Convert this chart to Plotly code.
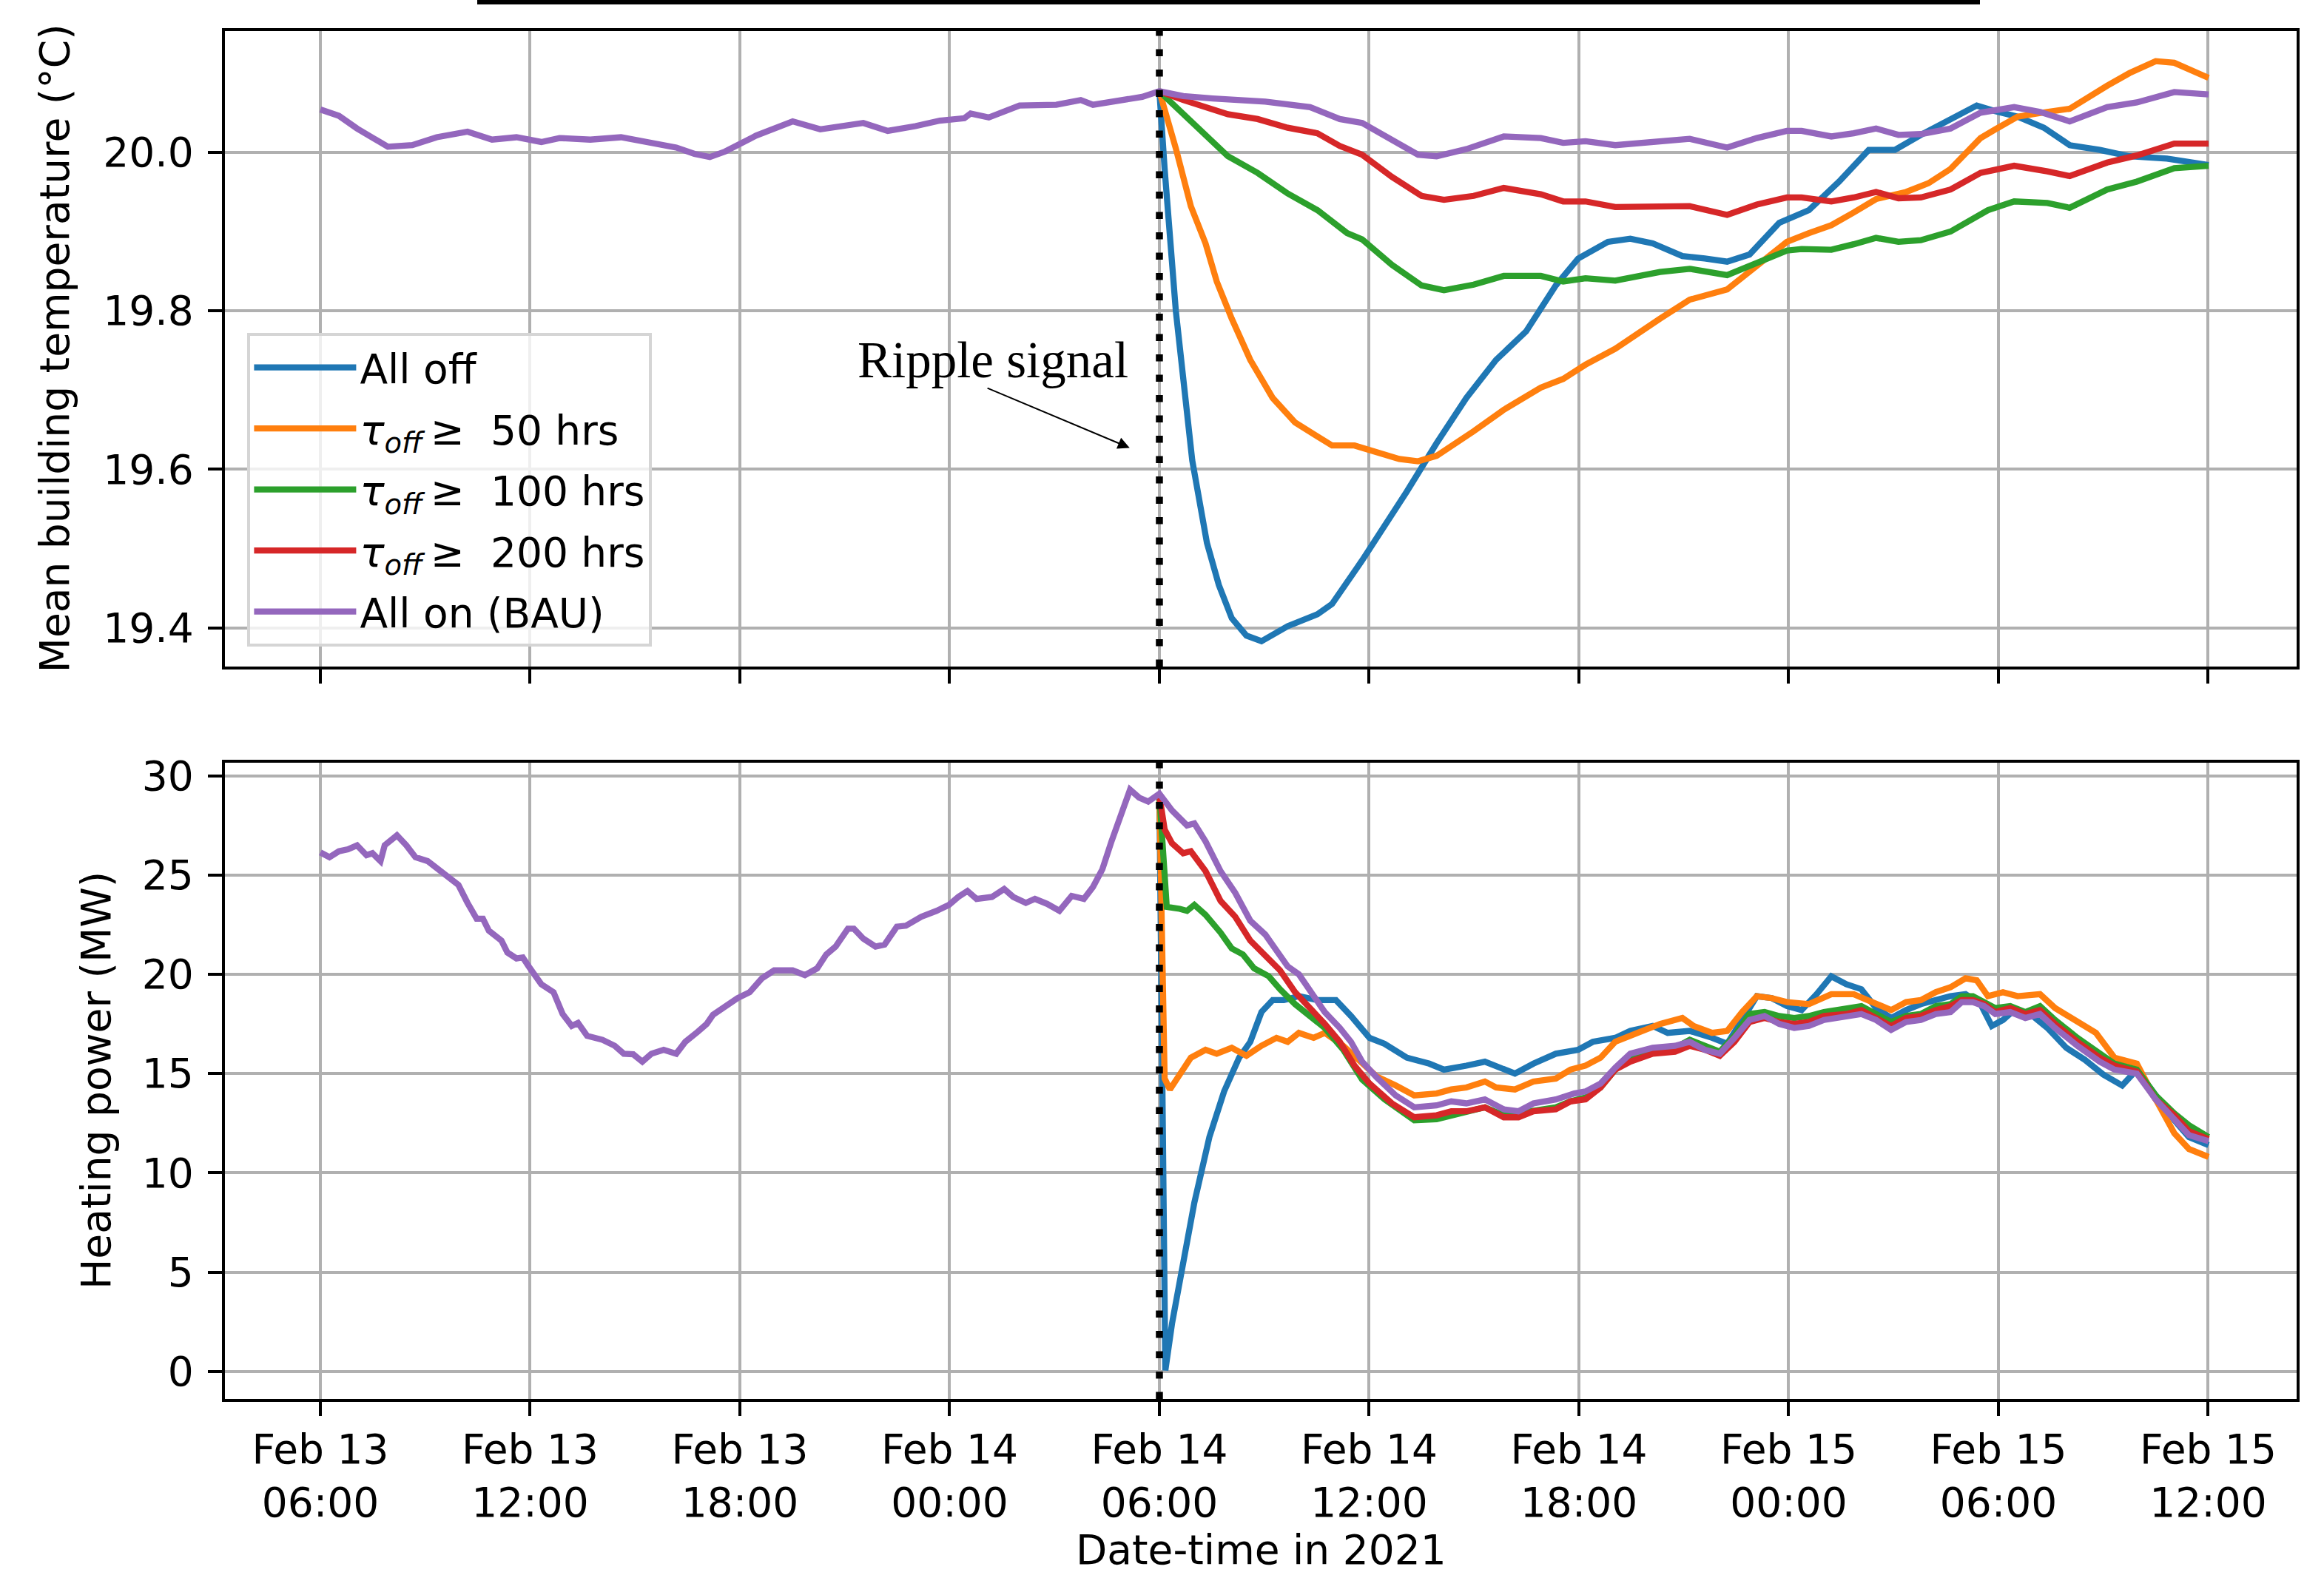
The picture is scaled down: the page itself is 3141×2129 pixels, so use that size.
import pandas as pd
import plotly.graph_objects as go
from plotly.subplots import make_subplots

START = pd.Timestamp("2021-02-13 06:00")
SIGNAL_HOUR = 24.0  # ripple signal sent at Feb 14 06:00

# ---------------------------------------------------------------- data
# All times are hours after Feb 13 06:00.

# Mean building temperature (°C)
bau_temp_hours = [0, 0.53, 1.05, 1.93, 2.63, 3.33, 4.21, 4.91, 5.61, 6.32, 6.84, 7.72, 8.6, 9.3,
                  10.18, 10.7, 11.14, 11.58, 12.46, 13.51, 14.3, 15.53, 16.23, 17.02, 17.72, 18.42,
                  18.6, 19.12, 20.0, 21.05, 21.75, 22.1, 22.98, 23.51, 24.0, 24.68, 25.53, 26.17,
                  27.03, 28.31, 29.16, 29.8, 30.65, 31.4, 31.93, 32.78, 33.85, 34.91, 35.55, 36.19,
                  37.04, 38.32, 39.17, 40.24, 41.09, 41.95, 42.37, 43.22, 43.86, 44.5, 45.14, 45.78,
                  46.63, 47.49, 48.45, 49.19, 50.04, 51.11, 51.96, 53.03, 54.01]
bau_temp = [20.054, 20.046, 20.03, 20.007, 20.009, 20.019, 20.026, 20.016, 20.019, 20.013, 20.018,
            20.016, 20.019, 20.013, 20.006, 19.998, 19.994, 20.001, 20.021, 20.039, 20.029, 20.037,
            20.027, 20.033, 20.04, 20.043, 20.049, 20.044, 20.059, 20.06, 20.066, 20.06, 20.066,
            20.07, 20.077, 20.071, 20.068, 20.066, 20.064, 20.057, 20.042, 20.037, 20.016, 19.997,
            19.995, 20.004, 20.02, 20.018, 20.012, 20.014, 20.009, 20.014, 20.017, 20.006, 20.018,
            20.027, 20.027, 20.02, 20.024, 20.03, 20.022, 20.023, 20.03, 20.05, 20.057, 20.051,
            20.039, 20.057, 20.063, 20.076, 20.073]

alloff_temp_hours = [24.0, 24.15, 24.47, 24.72, 24.94, 25.36, 25.7, 26.07, 26.49, 26.92, 27.67,
                     28.52, 28.94, 29.8, 30.44, 31.08, 31.93, 32.78, 33.63, 34.49, 35.34, 35.98,
                     36.83, 37.47, 38.11, 38.96, 39.6, 40.24, 40.88, 41.73, 42.58, 43.44, 44.29,
                     45.04, 45.78, 46.63, 47.38, 47.91, 48.55, 49.3, 50.04, 50.9, 51.75, 52.82, 54.01]
alloff_temp = [20.077, 19.979, 19.80, 19.706, 19.611, 19.507, 19.454, 19.412, 19.39, 19.383, 19.402,
               19.417, 19.43, 19.485, 19.528, 19.572, 19.633, 19.69, 19.738, 19.774, 19.832, 19.866,
               19.887, 19.891, 19.885, 19.869, 19.866, 19.862, 19.871, 19.911, 19.927, 19.963,
               20.003, 20.003, 20.022, 20.042, 20.059, 20.052, 20.045, 20.031, 20.009, 20.003,
               19.995, 19.992, 19.984]

tau50_temp_hours = [24.0, 24.47, 24.9, 25.32, 25.64, 26.07, 26.6, 27.24, 27.88, 28.94, 29.58, 30.22,
                    30.86, 31.4, 31.93, 32.99, 33.85, 34.91, 35.55, 36.19, 37.04, 38.32, 39.17,
                    40.24, 41.09, 41.95, 42.58, 43.22, 43.86, 44.5, 45.36, 46.0, 46.63, 47.49,
                    47.91, 48.55, 49.4, 50.04, 51.11, 51.75, 52.5, 53.03, 54.01]
tau50_temp = [20.077, 20.005, 19.932, 19.885, 19.837, 19.79, 19.738, 19.69, 19.659, 19.63, 19.63,
              19.622, 19.613, 19.61, 19.617, 19.648, 19.675, 19.703, 19.714, 19.732, 19.752, 19.79,
              19.814, 19.827, 19.858, 19.887, 19.898, 19.908, 19.924, 19.941, 19.95, 19.961,
              19.979, 20.018, 20.029, 20.045, 20.051, 20.055, 20.084, 20.1, 20.115, 20.113, 20.094]

tau100_temp_hours = [24.0, 24.9, 25.96, 26.81, 27.67, 28.52, 29.37, 29.8, 30.65, 31.5, 32.14, 32.99,
                     33.85, 34.91, 35.55, 36.19, 37.04, 38.32, 39.17, 40.24, 41.09, 41.95, 42.37,
                     43.22, 43.86, 44.5, 45.14, 45.78, 46.63, 47.7, 48.45, 49.4, 50.04, 51.11,
                     51.96, 53.03, 54.01]
tau100_temp = [20.077, 20.039, 19.995, 19.974, 19.948, 19.927, 19.898, 19.89, 19.858, 19.832,
               19.826, 19.833, 19.844, 19.844, 19.837, 19.841, 19.838, 19.849, 19.853, 19.845,
               19.861, 19.876, 19.878, 19.877, 19.884, 19.892, 19.887, 19.889, 19.9, 19.927,
               19.938, 19.936, 19.93, 19.953, 19.963, 19.98, 19.983]

tau200_temp_hours = [24.0, 24.68, 25.96, 26.81, 27.67, 28.52, 29.16, 29.8, 30.65, 31.5, 32.14,
                     32.99, 33.85, 34.91, 35.55, 36.19, 37.04, 38.32, 39.17, 40.24, 41.09, 41.95,
                     42.37, 43.22, 43.86, 44.5, 45.14, 45.78, 46.63, 47.49, 48.45, 49.4, 50.04,
                     51.11, 51.96, 53.03, 54.01]
tau200_temp = [20.077, 20.066, 20.048, 20.042, 20.031, 20.024, 20.008, 19.997, 19.969, 19.945,
               19.94, 19.945, 19.955, 19.947, 19.938, 19.938, 19.931, 19.932, 19.932, 19.921,
               19.934, 19.943, 19.943, 19.938, 19.943, 19.95, 19.942, 19.943, 19.953, 19.974,
               19.983, 19.976, 19.97, 19.987, 19.996, 20.011, 20.011]

# Heating power (MW)
bau_power_hours = [0, 0.26, 0.53, 0.79, 1.05, 1.32, 1.49, 1.72, 1.84, 2.19, 2.46, 2.72, 3.07, 3.51,
                   3.95, 4.21, 4.47, 4.65, 4.82, 5.18, 5.35, 5.61, 5.79, 5.96, 6.32, 6.67, 6.93,
                   7.19, 7.37, 7.63, 8.07, 8.42, 8.68, 8.95, 9.21, 9.47, 9.82, 10.18, 10.44, 10.79,
                   11.05, 11.23, 11.58, 11.93, 12.28, 12.63, 12.98, 13.51, 13.86, 14.21, 14.47,
                   14.74, 15.09, 15.26, 15.53, 15.88, 16.14, 16.49, 16.75, 17.19, 17.63, 17.98,
                   18.25, 18.51, 18.77, 19.21, 19.56, 19.82, 20.18, 20.44, 20.79, 21.14, 21.49,
                   21.84, 22.1, 22.37, 22.63, 22.89, 23.16, 23.42, 23.68, 24.0, 24.36, 24.79,
                   25.0, 25.32, 25.75, 26.17, 26.6, 27.03, 27.35, 27.67, 27.99, 28.31, 28.73,
                   29.16, 29.48, 29.8, 30.22, 30.76, 31.29, 31.93, 32.35, 32.78, 33.31, 33.85,
                   34.27, 34.7, 35.34, 35.87, 36.19, 36.62, 37.04, 37.47, 38.11, 38.75, 39.17,
                   39.6, 40.03, 40.45, 40.88, 41.31, 41.73, 42.16, 42.58, 43.01, 43.65, 44.08,
                   44.5, 44.93, 45.36, 45.78, 46.21, 46.63, 46.95, 47.27, 47.59, 47.91, 48.34,
                   48.77, 49.19, 49.62, 50.26, 50.9, 51.32, 51.96, 52.5, 53.03, 53.45, 54.01]
bau_power = [26.14, 25.9, 26.2, 26.3, 26.5, 26.0, 26.1, 25.7, 26.5, 27.0, 26.5, 25.9, 25.7, 25.1,
             24.5, 23.6, 22.8, 22.8, 22.2, 21.7, 21.1, 20.8, 20.85, 20.4, 19.5, 19.1, 18.0, 17.4,
             17.55, 16.9, 16.7, 16.4, 16.0, 15.97, 15.6, 16.0, 16.2, 16.0, 16.6, 17.1, 17.5, 17.96,
             18.4, 18.8, 19.1, 19.8, 20.2, 20.2, 19.96, 20.3, 21.0, 21.4, 22.3, 22.3, 21.8, 21.4,
             21.5, 22.4, 22.45, 22.9, 23.2, 23.5, 23.9, 24.2, 23.8, 23.9, 24.3, 23.9, 23.6, 23.8,
             23.55, 23.2, 23.95, 23.8, 24.4, 25.3, 26.7, 27.9, 29.3, 28.9, 28.7, 29.1, 28.26,
             27.5, 27.6, 26.7, 25.2, 24.1, 22.7, 22.0, 21.2, 20.4, 20.0, 19.15, 18.1, 17.3, 16.6,
             15.6, 14.8, 13.9, 13.3, 13.4, 13.6, 13.5, 13.7, 13.2, 13.1, 13.5, 13.7, 14.0, 14.1,
             14.5, 15.3, 16.0, 16.3, 16.4, 16.6, 16.2, 16.0, 16.8, 17.7, 17.9, 17.5, 17.3, 17.4,
             17.7, 17.9, 18.0, 17.7, 17.2, 17.6, 17.7, 18.0, 18.1, 18.6, 18.6, 18.4, 18.0, 18.1,
             17.8, 18.0, 17.3, 16.4, 15.6, 15.2, 15.0, 13.7, 12.65, 11.9, 11.6]

alloff_power_hours = [24.0, 24.17, 24.36, 24.68, 25.0, 25.43, 25.85, 26.28, 26.6, 26.92, 27.24,
                      27.56, 27.99, 28.52, 29.05, 29.48, 30.01, 30.44, 31.08, 31.72, 32.14, 32.78,
                      33.31, 34.17, 34.7, 35.34, 35.98, 36.4, 37.04, 37.47, 38.11, 38.54, 39.17,
                      39.81, 40.24, 40.67, 41.09, 41.52, 41.95, 42.37, 42.8, 43.22, 43.65, 44.08,
                      44.5, 44.93, 45.36, 45.78, 46.21, 46.63, 47.06, 47.49, 47.81, 48.13, 48.45,
                      48.98, 49.4, 49.94, 50.47, 51.0, 51.54, 51.96, 52.5, 53.03, 53.45, 54.01]
alloff_power = [29.0, 0.05, 2.4, 5.3, 8.5, 11.8, 14.1, 15.8, 16.6, 18.1, 18.7, 18.7, 18.9, 18.7,
                18.7, 17.9, 16.8, 16.5, 15.8, 15.5, 15.2, 15.4, 15.6, 15.0, 15.5, 16.0, 16.2, 16.6,
                16.8, 17.15, 17.4, 17.05, 17.15, 16.8, 16.5, 17.7, 18.9, 18.8, 18.4, 18.2, 19.0,
                19.9, 19.5, 19.25, 18.3, 17.8, 18.2, 18.5, 18.7, 18.9, 19.0, 18.5, 17.4, 17.7,
                18.2, 17.9, 17.3, 16.3, 15.7, 14.95, 14.4, 15.2, 13.9, 12.65, 11.8, 11.4]

tau50_power_hours = [24.0, 24.15, 24.3, 24.58, 24.9, 25.32, 25.64, 26.07, 26.49, 26.92, 27.35,
                     27.67, 27.99, 28.41, 28.73, 29.26, 29.8, 30.22, 30.76, 31.29, 31.93, 32.35,
                     32.78, 33.31, 33.63, 34.17, 34.7, 35.34, 35.76, 36.19, 36.62, 37.04, 37.68,
                     38.32, 38.96, 39.28, 39.81, 40.24, 40.67, 41.09, 41.52, 41.95, 42.58, 43.22,
                     43.86, 44.29, 44.93, 45.36, 45.78, 46.21, 46.63, 47.06, 47.38, 47.7, 48.13,
                     48.55, 49.19, 49.62, 50.15, 50.79, 51.32, 51.96, 52.5, 53.03, 53.45, 54.01]
tau50_power = [29.0, 14.75, 14.2, 15.0, 15.8, 16.2, 16.0, 16.3, 15.9, 16.4, 16.8, 16.6, 17.05, 16.8,
               17.05, 16.4, 15.5, 14.85, 14.4, 13.9, 14.0, 14.2, 14.3, 14.6, 14.3, 14.2, 14.6,
               14.75, 15.2, 15.4, 15.8, 16.6, 17.05, 17.5, 17.8, 17.4, 17.05, 17.15, 18.1, 18.9,
               18.8, 18.6, 18.5, 19.0, 19.0, 18.7, 18.2, 18.6, 18.7, 19.1, 19.35, 19.8, 19.7, 18.9,
               19.1, 18.9, 19.0, 18.3, 17.7, 17.05, 15.8, 15.5, 13.7, 12.0, 11.2, 10.8]

tau100_power_hours = [24.0, 24.21, 24.58, 24.79, 25.0, 25.32, 25.75, 26.07, 26.39, 26.71, 27.13,
                      27.45, 27.88, 28.31, 28.73, 29.26, 29.8, 30.44, 31.29, 31.93, 32.35, 32.78,
                      33.31, 33.85, 34.7, 35.34, 35.76, 36.19, 36.62, 37.04, 37.47, 38.11, 38.75,
                      39.17, 39.6, 40.03, 40.45, 40.88, 41.31, 41.73, 42.16, 42.58, 43.01, 43.65,
                      44.08, 44.5, 44.93, 45.36, 45.78, 46.21, 46.63, 46.95, 47.27, 47.59, 47.91,
                      48.34, 48.77, 49.19, 49.62, 50.26, 50.9, 51.32, 51.96, 52.5, 53.03, 53.45, 54.01]
tau100_power = [29.0, 23.4, 23.3, 23.2, 23.5, 23.0, 22.1, 21.3, 21.0, 20.3, 19.9, 19.25, 18.5,
                17.9, 17.3, 16.2, 14.7, 13.7, 12.65, 12.7, 12.9, 13.1, 13.3, 12.9, 13.1, 13.3,
                13.6, 13.8, 14.3, 15.2, 15.8, 16.1, 16.3, 16.7, 16.4, 16.1, 16.9, 18.0, 18.1, 17.9,
                17.8, 17.9, 18.1, 18.3, 18.4, 18.0, 17.6, 17.9, 18.0, 18.4, 18.5, 18.9, 18.9, 18.6,
                18.3, 18.4, 18.1, 18.4, 17.7, 16.8, 16.0, 15.5, 15.2, 13.9, 13.0, 12.4, 11.8]

tau200_power_hours = [24.0, 24.15, 24.36, 24.68, 24.9, 25.32, 25.75, 26.17, 26.6, 27.13, 27.45,
                      27.88, 28.31, 28.73, 29.16, 29.58, 30.01, 30.65, 31.29, 31.93, 32.35, 32.78,
                      33.31, 33.85, 34.27, 34.7, 35.34, 35.76, 36.19, 36.62, 37.04, 37.47, 38.11,
                      38.75, 39.17, 39.6, 40.03, 40.45, 40.88, 41.31, 41.73, 42.16, 42.58, 43.01,
                      43.65, 44.08, 44.5, 44.93, 45.36, 45.78, 46.21, 46.63, 46.95, 47.27, 47.59,
                      47.91, 48.34, 48.77, 49.19, 49.62, 50.26, 50.9, 51.32, 51.96, 52.5, 53.03,
                      53.45, 54.01]
tau200_power = [29.0, 27.3, 26.6, 26.1, 26.2, 25.2, 23.7, 22.9, 21.7, 20.8, 20.2, 19.1, 18.3, 17.5,
                16.6, 15.4, 14.5, 13.5, 12.8, 12.9, 13.1, 13.1, 13.3, 12.8, 12.8, 13.1, 13.2, 13.6,
                13.7, 14.3, 15.2, 15.6, 16.0, 16.1, 16.4, 16.2, 15.9, 16.6, 17.6, 17.8, 17.6, 17.5,
                17.6, 17.9, 18.0, 18.2, 17.8, 17.4, 17.8, 17.9, 18.2, 18.4, 18.7, 18.7, 18.5, 18.1,
                18.3, 18.0, 18.2, 17.5, 16.6, 15.8, 15.4, 15.1, 13.7, 12.9, 12.1, 11.7]

series_names = ["All off",
                "<i>τ</i><sub><i>off</i></sub>\u2009≥\u00a0\u00a050 hrs",
                "<i>τ</i><sub><i>off</i></sub>\u2009≥\u00a0\u00a0100 hrs",
                "<i>τ</i><sub><i>off</i></sub>\u2009≥\u00a0\u00a0200 hrs",
                "All on (BAU)"]
series_colors = ["#1f77b4", "#ff7f0e", "#2ca02c", "#d62728", "#9467bd"]

temp_series = [(alloff_temp_hours, alloff_temp), (tau50_temp_hours, tau50_temp),
               (tau100_temp_hours, tau100_temp), (tau200_temp_hours, tau200_temp),
               (bau_temp_hours, bau_temp)]
power_series = [(alloff_power_hours, alloff_power), (tau50_power_hours, tau50_power),
                (tau100_power_hours, tau100_power), (tau200_power_hours, tau200_power),
                (bau_power_hours, bau_power)]

tick_hours = [0, 6, 12, 18, 24, 30, 36, 42, 48, 54]
tick_labels = ["Feb 13<br>06:00", "Feb 13<br>12:00", "Feb 13<br>18:00", "Feb 14<br>00:00",
               "Feb 14<br>06:00", "Feb 14<br>12:00", "Feb 14<br>18:00", "Feb 15<br>00:00",
               "Feb 15<br>06:00", "Feb 15<br>12:00"]
temp_ticks = [19.4, 19.6, 19.8, 20.0]
power_ticks = [0, 5, 10, 15, 20, 25, 30]


def to_time(hours):
    return [START + pd.Timedelta(hours=h) for h in hours]


# ---------------------------------------------------------------- figure
W, H = 3141, 2129
M_L, M_R, M_T, M_B = 304, 37, 42, 238
PW, PH = W - M_L - M_R, H - M_T - M_B


def px_x(px):
    return (px - M_L) / PW


def px_y(py):
    return (H - M_B - py) / PH


FONT = "DejaVu Sans"
FS = 55
LW = 8.3
SPINE = 4.4
GRID = "#b0b0b0"

fig = make_subplots(rows=2, cols=1, shared_xaxes=True)

for (hrs, vals), name, color in zip(temp_series, series_names, series_colors):
    fig.add_trace(go.Scatter(x=to_time(hrs), y=vals, mode="lines", name=name,
                             legendgroup=name, line=dict(color=color, width=LW)),
                  row=1, col=1)
for (hrs, vals), name, color in zip(power_series, series_names, series_colors):
    fig.add_trace(go.Scatter(x=to_time(hrs), y=vals, mode="lines", name=name,
                             legendgroup=name, showlegend=False,
                             line=dict(color=color, width=LW)),
                  row=2, col=1)

signal_time = START + pd.Timedelta(hours=SIGNAL_HOUR)
x_range = [START + pd.Timedelta(hours=-2.73), START + pd.Timedelta(hours=56.53)]

axis_common = dict(showline=True, linecolor="black", linewidth=SPINE, mirror=True,
                   showgrid=True, gridcolor=GRID, gridwidth=SPINE, zeroline=False,
                   ticks="outside", ticklen=19, tickwidth=SPINE, tickcolor="black",
                   tickfont=dict(family=FONT, size=FS, color="black"))

fig.update_xaxes(**axis_common, range=x_range, tickmode="array",
                 tickvals=to_time(tick_hours), ticktext=tick_labels, ticklabelstandoff=-2)
fig.update_xaxes(showticklabels=False, row=1, col=1)
fig.update_yaxes(**axis_common, ticklabelstandoff=8)
fig.update_yaxes(range=[19.351, 20.153], tickmode="array", tickvals=temp_ticks,
                 tickformat=".1f", domain=[px_y(901), 1.0], row=1, col=1)
fig.update_yaxes(range=[-1.39, 30.66], tickmode="array", tickvals=power_ticks,
                 domain=[0.0, px_y(1031)], row=2, col=1)

# dotted marker of the ripple signal in both panels
dot_line = dict(color="black", width=9.5, dash="9.5px,18px")
fig.add_shape(type="line", x0=signal_time, x1=signal_time, y0=0, y1=1,
              xref="x", yref="y domain", line=dot_line)
fig.add_shape(type="line", x0=signal_time, x1=signal_time, y0=0, y1=1,
              xref="x2", yref="y2 domain", line=dot_line)

# rule along the top edge
fig.add_shape(type="rect", xref="paper", yref="paper",
              x0=px_x(645), x1=px_x(2676), y0=px_y(6), y1=px_y(0),
              fillcolor="black", line=dict(width=0))

annotations = [
    dict(text="Ripple signal", x=START + pd.Timedelta(hours=19.24), y=19.738,
         xref="x", yref="y", showarrow=False, xanchor="center", yanchor="middle",
         font=dict(family="Liberation Serif", size=69, color="black")),
    dict(text="", x=START + pd.Timedelta(hours=23.15), y=19.627,
         ax=START + pd.Timedelta(hours=19.05), ay=19.703, axref="x", ayref="y",
         xref="x", yref="y", showarrow=True, arrowhead=2, arrowsize=1.6,
         arrowwidth=2, arrowcolor="black", standoff=0, startstandoff=0),
    dict(text="Mean building temperature (°C)", x=px_x(74), y=px_y(471.5),
         xref="paper", yref="paper", showarrow=False, textangle=-90,
         xanchor="center", yanchor="middle", font=dict(family=FONT, size=FS, color="black")),
    dict(text="Heating power (MW)", x=px_x(130), y=px_y(1461),
         xref="paper", yref="paper", showarrow=False, textangle=-90,
         xanchor="center", yanchor="middle", font=dict(family=FONT, size=FS, color="black")),
    dict(text="Date-time in 2021", x=0.5, y=px_y(2095), borderpad=0,
         xref="paper", yref="paper", showarrow=False,
         xanchor="center", yanchor="middle", font=dict(family=FONT, size=FS, color="black")),
]

fig.update_layout(
    width=W, height=H,
    margin=dict(l=M_L, r=M_R, t=M_T, b=M_B, pad=0),
    paper_bgcolor="white", plot_bgcolor="white",
    font=dict(family=FONT, size=FS, color="black"),
    annotations=annotations,
    legend=dict(x=px_x(334), y=px_y(450), xanchor="left", yanchor="top",
                bgcolor="rgba(255,255,255,0.8)", bordercolor="#d5d5d5", borderwidth=4.4,
                font=dict(family=FONT, size=FS, color="black"),
                tracegroupgap=8, itemwidth=138),
    showlegend=True,
)

fig.write_html("out.html")
